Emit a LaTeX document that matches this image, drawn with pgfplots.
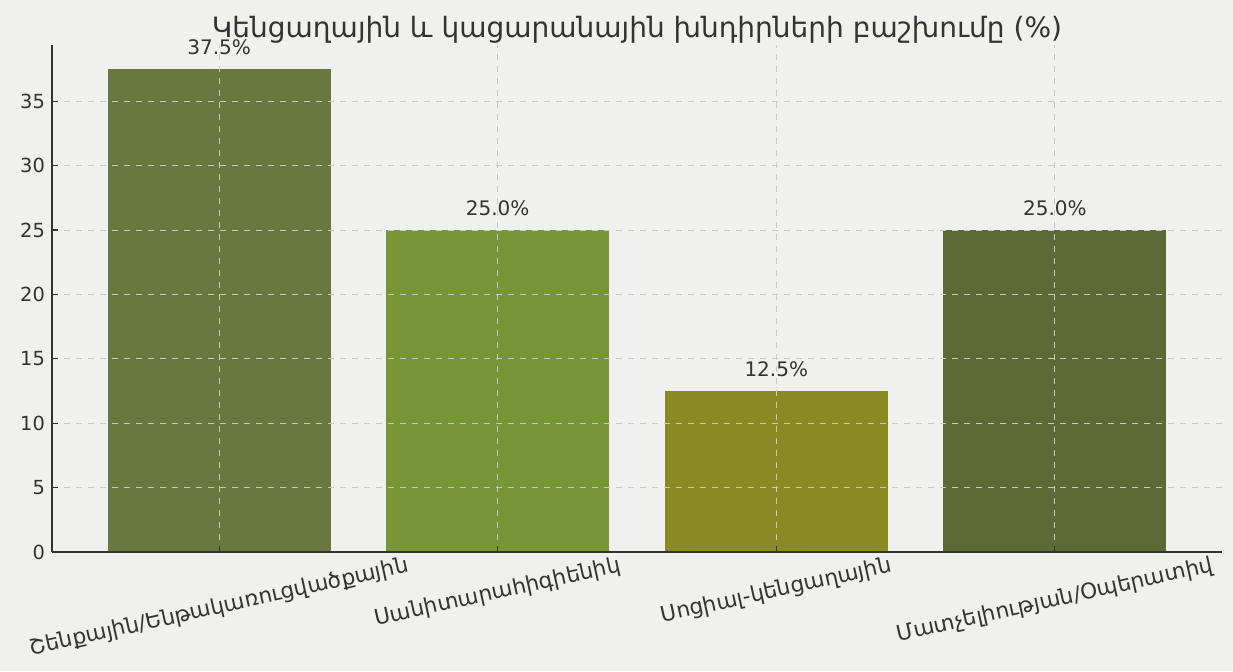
\documentclass[border=0pt]{standalone}
\usepackage{pgfplots}
\pgfplotsset{compat=1.18}
\usepackage{graphicx}
\usepackage{fontspec}
\setmainfont{DejaVu Sans}
\definecolor{bg}{HTML}{F0F0EE}
\definecolor{txt}{HTML}{333333}
\definecolor{cA}{HTML}{68793F}
\definecolor{cB}{HTML}{789538}
\definecolor{cC}{HTML}{8A8A25}
\definecolor{cD}{HTML}{5E6A35}
\definecolor{gridc}{HTML}{C8C8C8}
\begin{document}
\begin{tikzpicture}
\path[fill=bg] (-26pt,-59.5pt) rectangle (590.5pt,276pt);
\useasboundingbox (-26pt,-59.5pt) rectangle (590.5pt,276pt);
\begin{axis}[
  at={(0,0)}, anchor=south west,
  scale only axis,
  width=585pt, height=253.5pt,
  xmin=-0.6, xmax=3.6,
  ymin=0, ymax=39.375,
  axis lines*=left,
  axis line style={color=txt, line width=0.8pt},
  ybar, bar width=0.8, bar shift=0pt,
  xtick={0,1,2,3},
  xticklabels={
    \rotatebox{12.5}{Շենքային/Ենթակառուցվածքային},
    \rotatebox{12.5}{Սանիտարահիգիենիկ},
    \rotatebox{12.5}{Սոցիալ-կենցաղային},
    \rotatebox{12.5}{Մատչելիության/Օպերատիվ}},
  xticklabel style={anchor=north, font=\fontsize{10.8}{12}\selectfont, color=txt, inner sep=1.5pt},
  ytick={0,5,10,15,20,25,30,35},
  yticklabel style={font=\fontsize{9.7}{11}\selectfont, color=txt},
  /pgf/number format/assume math mode=true,
  tick align=inside,
  major tick length=3pt,
  tick style={color=txt, line width=0.6pt},
  grid=major,
  major grid style={color=gridc, dashed, line width=0.4pt},
  axis on top,
  title={Կենցաղային և կացարանային խնդիրների բաշխումը (\%)},
  title style={font=\fontsize{14}{16}\selectfont, color=txt, yshift=-8.5pt},
  nodes near coords={\pgfmathprintnumber[fixed,fixed zerofill,precision=1]{\pgfplotspointmeta}\%},
  nodes near coords style={font=\fontsize{10}{12}\selectfont, color=txt, /pgf/number format/assume math mode=true, inner sep=2pt, yshift=5pt},
]
\addplot[fill=cA, draw=none] coordinates {(0,37.5)};
\addplot[fill=cB, draw=none] coordinates {(1,25.0)};
\addplot[fill=cC, draw=none] coordinates {(2,12.5)};
\addplot[fill=cD, draw=none] coordinates {(3,25.0)};
\end{axis}
\end{tikzpicture}
\end{document}
